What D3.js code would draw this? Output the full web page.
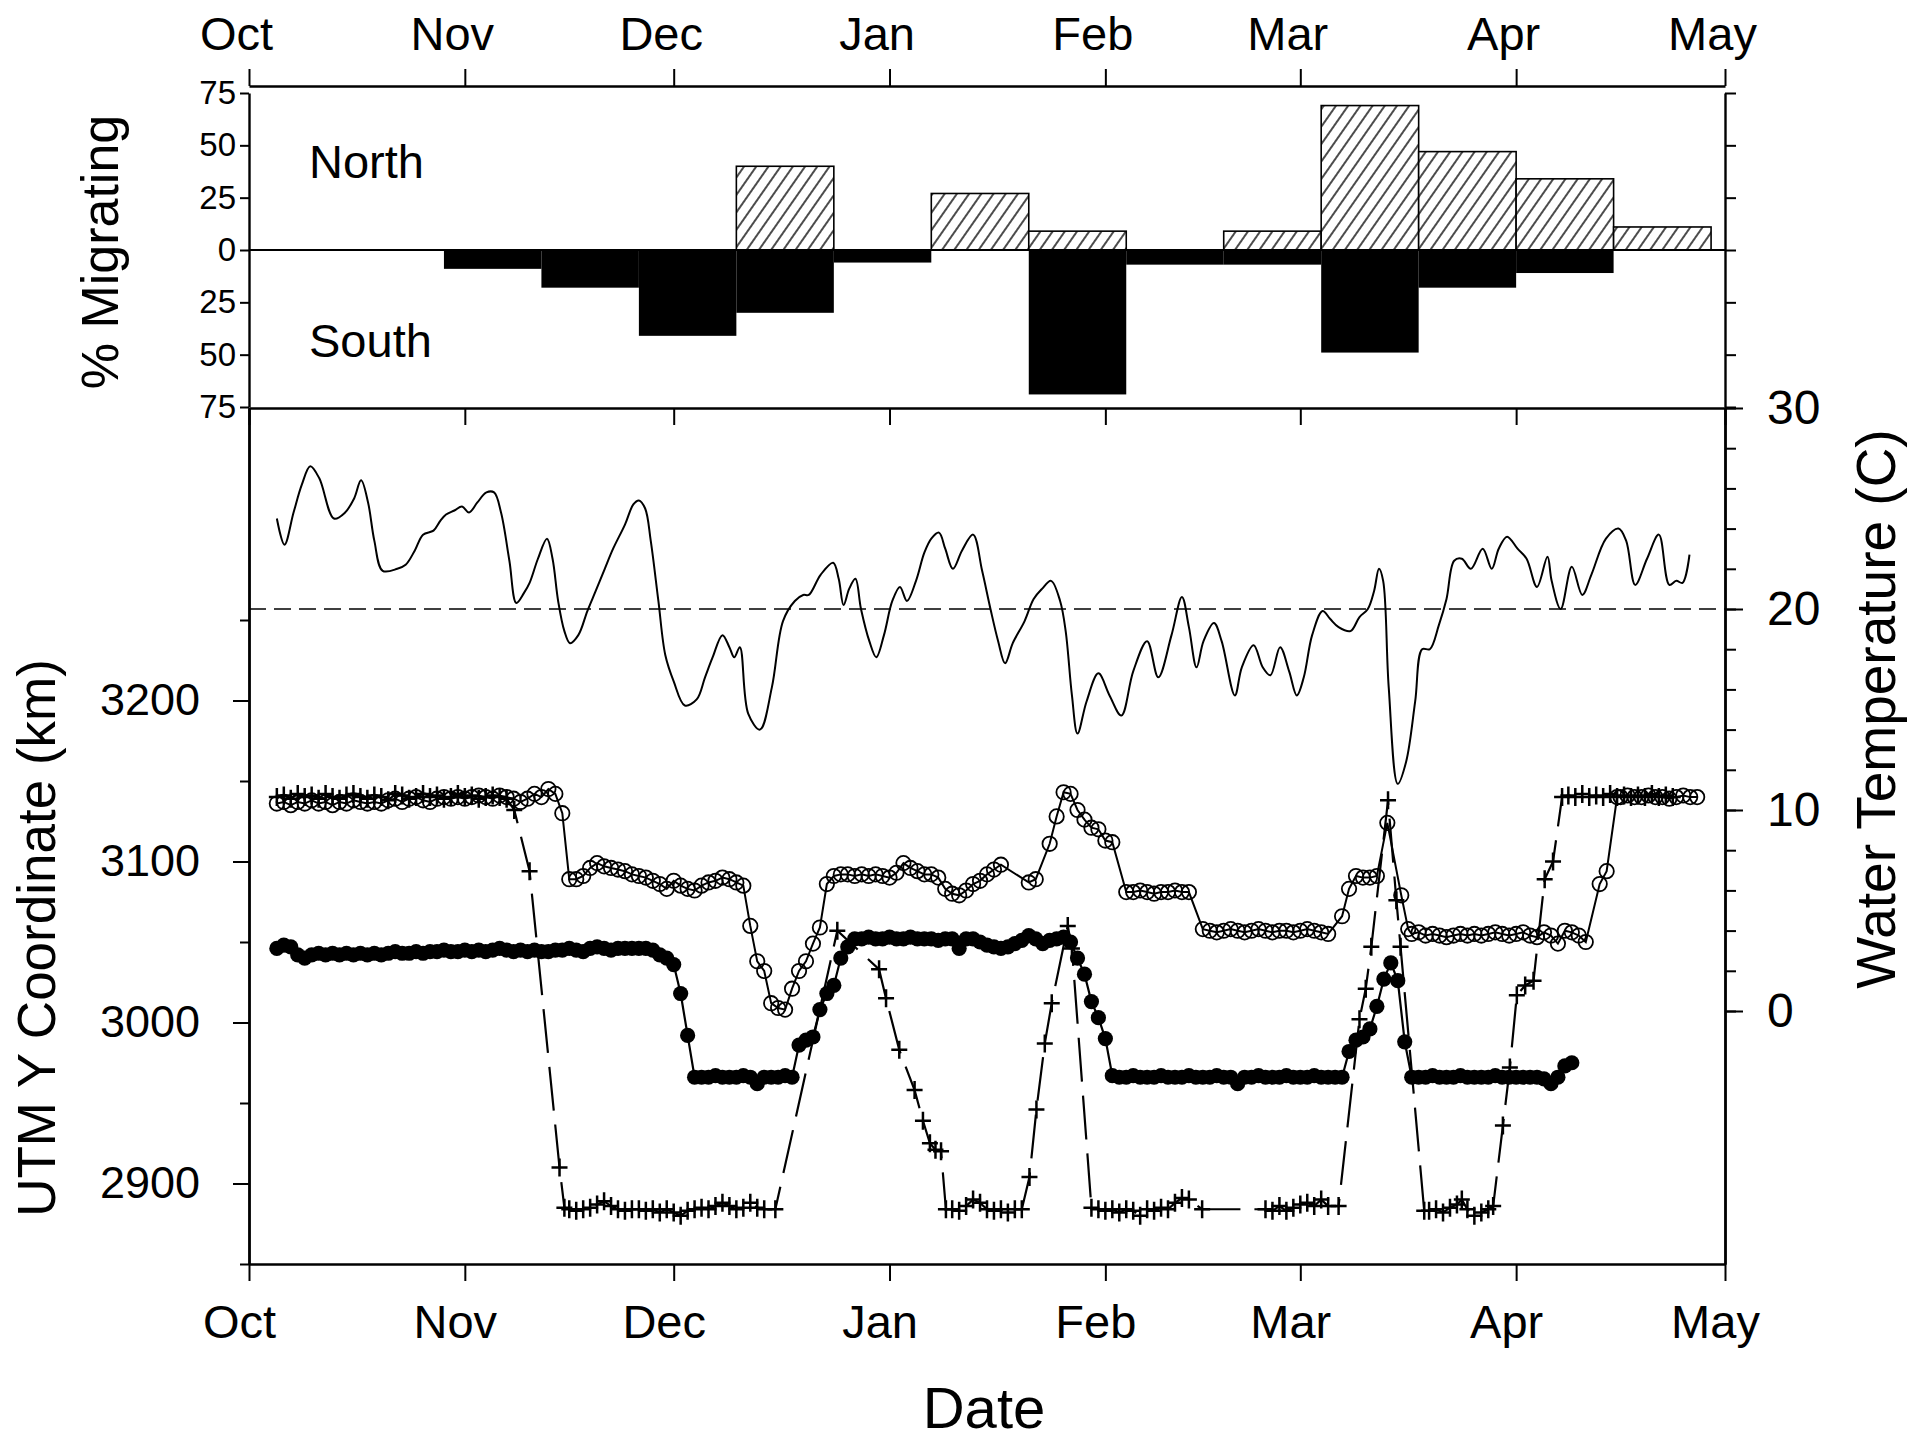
<!DOCTYPE html>
<html><head><meta charset="utf-8">
<script src="https://cdn.jsdelivr.net/npm/d3@7"></script>
<style>
html,body{margin:0;padding:0;background:#fff;}
svg{display:block;}
text{font-family:"Liberation Sans",Arial,Helvetica,sans-serif;fill:#000;}
</style></head><body>
<svg id="chart" width="1917" height="1441"></svg>
<script>
// ---------------- DATA ----------------
const monthLabels = ["Oct","Nov","Dec","Jan","Feb","Mar","Apr","May"];
// 14-day migration bins (start dates)
const binStarts = ["1998-10-29","1998-11-12","1998-11-26","1998-12-10","1998-12-24","1999-01-07","1999-01-21",
                   "1999-02-04","1999-02-18","1999-03-04","1999-03-18","1999-04-01","1999-04-15"];
const pctNorth = [0, 0, 0, 40, 0, 27, 9, 0, 9, 69, 47, 34, 11];
const pctSouth = [9, 18, 41, 30, 6, 0, 69, 7, 7, 49, 18, 11, 0];
const migTicks = [0, 25, 50, 75];
const kmTickLabels = [2900, 3000, 3100, 3200];
const tempTickLabels = [0, 10, 20, 30];

// Water temperature (days since 1 Oct, deg C)
const tempDay = [4.0,5.1,6.4,7.6,8.8,10.1,12.2,13.8,15.1,16.1,17.1,18.0,19.2,21.3,22.5,23.8,25.0,26.5,27.5,28.3,29.5,30.6,31.6,32.8,34.1,35.2,36.2,37.4,38.4,39.5,40.3,41.5,42.8,43.6,44.4,45.3,46.1,47.3,48.6,49.8,51.1,52.3,54.0,55.2,56.0,56.9,57.7,58.8,59.8,61.0,62.6,64.3,65.5,66.6,68.0,69.0,69.7,70.5,71.7,73.4,75.1,76.7,78.4,79.6,80.4,82.1,83.9,84.7,85.4,86.2,87.1,87.9,89.1,90.1,91.2,92.4,93.5,94.5,95.8,97.0,98.0,99.1,100.0,101.1,102.4,104.0,105.3,106.5,107.6,108.6,109.7,111.4,112.7,113.9,115.2,116.5,117.3,118.2,119.0,120.3,122.0,123.6,125.3,127.0,129.0,130.6,132.5,134.0,135.0,136.1,137.1,138.6,139.7,141.6,142.6,144.3,145.6,146.7,148.1,149.4,150.5,151.5,152.7,154.2,155.3,156.5,158.2,159.5,160.7,161.6,162.3,162.9,163.7,165.0,166.2,167.5,168.5,169.6,170.9,172.0,173.1,174.2,175.5,177.2,178.5,179.5,180.7,182.2,183.5,185.0,186.5,187.1,188.4,190.0,191.5,192.8,194.9,196.7,197.8,199.1,200.8,202.5,204.0,205.0,205.9,206.9];
const tempC = [24.5,23.2,24.8,26.2,27.1,26.5,24.5,24.8,25.5,26.4,25.3,23.4,21.9,22.0,22.2,22.9,23.7,23.9,24.4,24.7,24.9,25.1,24.8,25.3,25.8,25.8,24.8,22.4,20.3,20.8,21.3,22.5,23.5,22.5,20.4,18.9,18.3,18.7,19.9,20.9,22.0,23.0,24.2,25.2,25.4,25.0,23.4,20.4,17.7,16.4,15.2,15.5,16.6,17.6,18.7,18.1,17.6,18.1,14.8,14.0,16.1,19.4,20.4,20.7,20.7,21.7,22.3,21.5,20.2,21.0,21.5,20.0,18.4,17.6,18.7,20.4,21.1,20.4,21.4,22.8,23.5,23.8,23.0,22.0,22.9,23.7,21.9,20.0,18.4,17.3,18.3,19.4,20.5,21.0,21.4,20.4,18.9,15.7,13.8,15.4,16.8,15.7,14.7,16.9,18.4,16.6,18.7,20.6,19.1,17.1,18.4,19.3,18.4,15.7,17.1,18.2,17.1,16.7,18.1,16.9,15.7,16.6,18.7,19.9,19.5,19.1,18.9,19.6,20.0,20.9,22.0,21.4,16.1,11.3,12.4,15.4,18.0,18.0,19.2,20.5,22.4,22.5,22.0,23.0,22.0,23.0,23.6,23.0,22.5,21.1,22.6,21.4,20.0,22.1,20.7,21.7,23.5,24.0,23.4,21.2,22.5,23.7,21.2,21.4,21.3,22.7];
const tempThreshold = 20;

// UTM Y coordinate series: [days since 1 Oct, km]
const fishOpen = [[4,3136],[5,3137],[6,3135],[7,3137],[8,3136],[9,3138],[10,3136],[11,3137],[12,3135],[13,3137],[14,3136],[15,3138],[16,3137],[17,3136],[18,3137],[19,3136],[20,3138],[21,3139],[22,3137],[23,3139],[24,3140],[25,3138],[26,3137],[27,3139],[28,3140],[29,3139],[30,3140],[31,3139],[32,3140],[33,3141],[34,3140],[35,3139],[36,3141],[37,3140],[38,3139],[39,3137],[40,3139],[41,3142],[42,3140],[43,3145],[44,3142],[45,3130],[46,3089],[47,3089],[48,3091],[49,3096],[50,3099],[51,3097],[52,3096],[53,3095],[54,3094],[55,3092],[56,3091],[57,3090],[58,3088],[59,3086],[60,3083],[61,3088],[62,3085],[63,3083],[64,3082],[65,3085],[66,3087],[67,3088],[68,3090],[69,3089],[70,3087],[71,3085],[72,3060],[73,3038],[74,3032],[75,3012],[76,3009],[77,3008],[78,3021],[79,3032],[80,3038],[81,3049],[82,3059],[83,3086],[84,3091],[85,3092],[86,3092],[87,3091],[88,3092],[89,3091],[90,3092],[91,3091],[92,3090],[93,3093],[94,3099],[95,3096],[96,3094],[97,3092],[98,3092],[99,3090],[100,3083],[101,3080],[102,3079],[103,3082],[104,3086],[105,3088],[106,3092],[107,3095],[108,3098],[112,3087],[113,3089],[115,3111],[116,3128],[117,3143],[118,3142],[119,3132],[120,3126],[121,3121],[122,3120],[123,3113],[124,3112],[126,3081],[127,3081],[128,3082],[129,3081],[130,3080],[131,3081],[132,3081],[133,3082],[134,3081],[135,3081],[137,3058],[138,3057],[139,3056],[140,3057],[141,3058],[142,3057],[143,3056],[144,3057],[145,3058],[146,3057],[147,3056],[148,3057],[149,3057],[150,3056],[151,3057],[152,3058],[153,3057],[154,3056],[155,3055],[157,3066],[158,3083],[159,3091],[160,3090],[161,3090],[162,3091],[163.5,3124],[165.5,3079],[166.5,3058],[167,3055],[168,3056],[169,3054],[170,3055],[171,3054],[172,3053],[173,3054],[174,3055],[175,3054],[176,3055],[177,3054],[178,3055],[179,3056],[180,3055],[181,3054],[182,3055],[183,3056],[184,3054],[185,3053],[186,3056],[187,3054],[188,3049],[189,3057],[190,3056],[191,3054],[192,3050],[194,3086],[195,3094],[196.5,3140],[197,3140],[198,3141],[199,3140],[200,3140],[201,3141],[202,3140],[203,3140],[204,3139],[205,3140],[206,3141],[207,3140],[208,3140]];
const fishFilled = [[4,3046],[5,3048],[6,3047],[7,3042],[8,3040],[9,3042],[10,3043],[11,3042],[12,3043],[13,3042],[14,3043],[15,3042],[16,3043],[17,3042],[18,3043],[19,3042],[20,3043],[21,3044],[22,3043],[23,3043],[24,3044],[25,3043],[26,3044],[27,3044],[28,3045],[29,3044],[30,3044],[31,3045],[32,3044],[33,3045],[34,3044],[35,3045],[36,3046],[37,3045],[38,3044],[39,3045],[40,3044],[41,3045],[42,3044],[43,3044],[44,3045],[45,3045],[46,3046],[47,3045],[48,3044],[49,3046],[50,3047],[51,3046],[52,3045],[53,3046],[54,3046],[55,3046],[56,3046],[57,3046],[58,3045],[59,3042],[60,3040],[61,3036],[62,3018],[63,2992],[64,2966],[65,2966],[66,2966],[67,2967],[68,2966],[69,2966],[70,2966],[71,2967],[72,2966],[73,2962],[74,2966],[75,2966],[76,2966],[77,2967],[78,2966],[79,2986],[80,2989],[81,2991],[82,3008],[83,3018],[84,3023],[85,3040],[86,3047],[87,3052],[88,3052],[89,3053],[90,3052],[91,3052],[92,3053],[93,3052],[94,3052],[95,3053],[96,3052],[97,3052],[98,3052],[99,3051],[100,3052],[101,3052],[102,3046],[103,3052],[104,3052],[105,3050],[106,3048],[107,3047],[108,3046],[109,3047],[110,3049],[111,3051],[112,3054],[113,3052],[114,3049],[115,3051],[116,3052],[117,3053],[118,3050],[119,3040],[120,3030],[121,3013],[122,3003],[123,2990],[124,2967],[125,2966],[126,2966],[127,2967],[128,2966],[129,2966],[130,2966],[131,2967],[132,2966],[133,2966],[134,2966],[135,2967],[136,2966],[137,2966],[138,2966],[139,2967],[140,2966],[141,2966],[142,2962],[143,2966],[144,2966],[145,2967],[146,2966],[147,2966],[148,2966],[149,2967],[150,2966],[151,2966],[152,2966],[153,2967],[154,2966],[155,2966],[156,2966],[157,2966],[158,2982],[159,2989],[160,2991],[161,2996],[162,3010],[163,3027],[164,3037],[165,3026],[166,2988],[167,2966],[168,2966],[169,2966],[170,2967],[171,2966],[172,2966],[173,2966],[174,2967],[175,2966],[176,2966],[177,2966],[178,2966],[179,2967],[180,2966],[181,2966],[182,2966],[183,2966],[184,2966],[185,2966],[186,2965],[187,2962],[188,2966],[189,2973],[190,2975]];
const fishPlus = [[4,3140],[5,3141],[6,3139],[7,3142],[8,3140],[9,3141],[10,3139],[11,3142],[12,3140],[13,3139],[14,3141],[15,3142],[16,3140],[17,3139],[18,3141],[19,3140],[20,3138],[21,3142],[22,3141],[23,3139],[24,3140],[25,3142],[26,3140],[27,3141],[28,3139],[29,3140],[30,3142],[31,3140],[32,3141],[33,3139],[34,3140],[35,3141],[36,3140],[37,3139],[38.1,3132],[40.3,3094],[44.6,2910],[45.3,2885],[46,2884],[47,2883],[48,2884],[49,2885],[50,2887],[51,2889],[52,2886],[53,2884],[54,2883],[55,2884],[56,2884],[57,2883],[58,2884],[59,2882],[60,2884],[61,2882],[62,2880],[63,2883],[64,2884],[65,2885],[66,2884],[67,2886],[68,2888],[69,2886],[70,2884],[71,2885],[72,2888],[73,2885],[74,2884],[75.6,2884],[84.5,3057],[90.5,3033],[91.5,3015],[93.4,2983],[95.6,2958],[96.8,2939],[97.8,2925],[98.6,2921],[99.4,2920],[100.1,2884],[101,2884],[102,2883],[103,2886],[104,2890],[105,2888],[106,2884],[107,2883],[108,2884],[109,2882],[110,2884],[111,2884],[112.1,2904],[113.1,2946],[114.3,2987],[115.3,3012],[117.6,3060],[118.2,3046],[121,2885],[122,2884],[123,2883],[124,2884],[125,2882],[126,2884],[127,2883],[128,2880],[129,2884],[130,2883],[131,2885],[132,2884],[133,2888],[134,2891],[135,2890],[136.9,2884],[146,2884],[147,2883],[148,2886],[149,2883],[150,2885],[151,2887],[152,2888],[153,2886],[154,2890],[155,2886],[156.5,2886],[159.5,3002],[160.4,3021],[161.2,3047],[163.6,3138],[164.8,3076],[165.4,3047],[168.8,2883],[169.5,2883],[170.5,2884],[171.5,2882],[172.5,2885],[173.5,2887],[174.2,2890],[175,2884],[176,2880],[177,2882],[178,2884],[178.7,2886],[180.1,2936],[181.1,2972],[182.1,3017],[183.3,3023],[184.5,3026],[186.1,3089],[187.3,3100],[188.6,3140],[189.5,3141],[190.5,3140],[191.5,3142],[192.5,3140],[193.5,3141],[194.5,3140],[195.5,3142],[196.5,3140],[197.5,3141],[198.5,3140],[199.5,3141],[200.5,3140],[201.5,3142],[202.5,3140],[203.5,3141],[204.5,3140]];

// ---------------- CHART ----------------
const svg = d3.select("#chart");
const FONT = '"Liberation Sans",Arial,Helvetica,sans-serif';
const t0 = Date.UTC(1998, 9, 1);
const dayDate = d => new Date(t0 + d * 864e5);
const parse = d3.utcParse("%Y-%m-%d");

const L = 249, R = 1725;
const x = d3.scaleUtc().domain([new Date(t0), new Date(Date.UTC(1999, 4, 1))]).range([L, R]);
const months = d3.utcMonth.range(new Date(t0), new Date(Date.UTC(1999, 4, 2)));

const yZero = 250;
const yN = d3.scaleLinear().domain([0, 75]).range([yZero, 93]);
const yS = d3.scaleLinear().domain([0, 75]).range([yZero, 407]);
const yKm = d3.scaleLinear().domain([2850, 3200]).range([1264, 700.5]);
const yT = d3.scaleLinear().domain([0, 30]).range([1011, 408]);
const TOP = 86, MID = 408, BOT = 1264;

const defs = svg.append("defs");
const pat = defs.append("pattern").attr("id", "hatch").attr("patternUnits", "userSpaceOnUse")
  .attr("width", 10).attr("height", 10).attr("patternTransform", "rotate(35)");
pat.append("rect").attr("width", 10).attr("height", 10).attr("fill", "#fff");
pat.append("line").attr("x1", 5).attr("y1", 0).attr("x2", 5).attr("y2", 10)
  .attr("stroke", "#000").attr("stroke-width", 1.4);

function style(g, fs) {
  g.attr("font-family", FONT).attr("font-size", fs);
  g.select(".domain").attr("stroke", "#000").attr("stroke-width", 2.4);
  g.selectAll(".tick line").attr("stroke", "#000").attr("stroke-width", 2);
  g.selectAll(".tick text").attr("fill", "#000");
}

// ---- Bars (top panel)
const bins = binStarts.map((s, i) => ({ start: parse(s), end: d3.utcDay.offset(parse(s), 14), n: pctNorth[i], s: pctSouth[i] }));
svg.append("g").selectAll("rect").data(bins.filter(b => b.s > 0)).join("rect")
  .attr("x", b => x(b.start)).attr("width", b => x(b.end) - x(b.start))
  .attr("y", yZero).attr("height", b => yS(b.s) - yZero).attr("fill", "#000");
svg.append("g").selectAll("rect").data(bins.filter(b => b.n > 0)).join("rect")
  .attr("x", b => x(b.start)).attr("width", b => x(b.end) - x(b.start))
  .attr("y", b => yN(b.n)).attr("height", b => yZero - yN(b.n))
  .attr("fill", "url(#hatch)").attr("stroke", "#000").attr("stroke-width", 1.6);
svg.append("line").attr("x1", L).attr("x2", R).attr("y1", yZero).attr("y2", yZero)
  .attr("stroke", "#000").attr("stroke-width", 1.8);

svg.append("text").attr("x", 309).attr("y", 178).attr("font-size", 47).text("North");
svg.append("text").attr("x", 309).attr("y", 357).attr("font-size", 47).text("South");

// ---- Axes
const gTop = svg.append("g").attr("transform", `translate(0,${TOP})`)
  .call(d3.axisTop(x).tickValues(months).tickSize(17).tickSizeOuter(0).tickFormat((d, i) => monthLabels[i]));
style(gTop, 47);
gTop.selectAll(".tick text").attr("y", -36).attr("dy", 0).attr("dx", -13);
const gMid = svg.append("g").attr("transform", `translate(0,${MID})`)
  .call(d3.axisBottom(x).tickValues(months).tickSize(17).tickSizeOuter(0).tickFormat(""));
style(gMid, 10);
const gBot = svg.append("g").attr("transform", `translate(0,${BOT})`)
  .call(d3.axisBottom(x).tickValues(months).tickSize(17).tickSizeOuter(0).tickFormat((d, i) => monthLabels[i]));
style(gBot, 47);
gBot.selectAll(".tick text").attr("y", 74).attr("dy", 0).attr("dx", -10);

const gNL = svg.append("g").attr("transform", `translate(${L},0)`)
  .call(d3.axisLeft(yN).tickValues(migTicks).tickSize(9).tickPadding(4).tickSizeOuter(0));
style(gNL, 33);
const gSL = svg.append("g").attr("transform", `translate(${L},0)`)
  .call(d3.axisLeft(yS).tickValues(migTicks.slice(1)).tickSize(9).tickPadding(4).tickSizeOuter(0));
style(gSL, 33);
const gNR = svg.append("g").attr("transform", `translate(${R},0)`)
  .call(d3.axisRight(yN).tickValues(migTicks).tickSize(11).tickSizeOuter(0).tickFormat(""));
style(gNR, 10);
const gSR = svg.append("g").attr("transform", `translate(${R},0)`)
  .call(d3.axisRight(yS).tickValues(migTicks.slice(1)).tickSize(11).tickSizeOuter(0).tickFormat(""));
style(gSR, 10);

const yKmAxis = yKm.copy().domain([2850, yKm.invert(MID)]).range([BOT, MID]);
const gKmMinor = svg.append("g").attr("transform", `translate(${L},0)`)
  .call(d3.axisLeft(yKmAxis).tickValues(d3.range(2850, 3251, 50)).tickSize(9).tickSizeOuter(0).tickFormat(""));
style(gKmMinor, 10);
const gKm = svg.append("g").attr("transform", `translate(${L},0)`)
  .call(d3.axisLeft(yKmAxis).tickValues(kmTickLabels).tickSize(16).tickPadding(33).tickSizeOuter(0).tickFormat(d3.format("d")));
style(gKm, 45);

const yTAxis = yT.copy().domain([yT.invert(BOT), 30]).range([BOT, MID]);
const gTMinor = svg.append("g").attr("transform", `translate(${R},0)`)
  .call(d3.axisRight(yTAxis).tickValues(d3.range(0, 31, 2)).tickSize(11).tickSizeOuter(0).tickFormat(""));
style(gTMinor, 10);
const gT = svg.append("g").attr("transform", `translate(${R},0)`)
  .call(d3.axisRight(yTAxis).tickValues(tempTickLabels).tickSize(18).tickPadding(24).tickSizeOuter(0).tickFormat(d3.format("d")));
style(gT, 48);

// ---- Temperature
svg.append("line").attr("x1", L).attr("x2", R).attr("y1", yT(tempThreshold)).attr("y2", yT(tempThreshold))
  .attr("stroke", "#000").attr("stroke-width", 1.6).attr("stroke-dasharray", "17,8");
const tempLine = d3.line().x((d, i) => x(dayDate(tempDay[i]))).y(d => yT(d)).curve(d3.curveCatmullRom.alpha(0.5));
svg.append("path").attr("d", tempLine(tempC)).attr("fill", "none").attr("stroke", "#000").attr("stroke-width", 2);

// ---- Location series
const kmLine = d3.line().x(d => x(dayDate(d[0]))).y(d => yKm(d[1]));
svg.append("path").attr("d", kmLine(fishPlus)).attr("fill", "none").attr("stroke", "#000")
  .attr("stroke-width", 2.2).attr("stroke-dasharray", "44,14");
svg.append("g").selectAll("path").data(fishPlus).join("path")
  .attr("transform", d => `translate(${x(dayDate(d[0]))},${yKm(d[1])})`)
  .attr("d", "M-8,0H8M0,-9V9").attr("stroke", "#000").attr("stroke-width", 2.5).attr("fill", "none");
svg.append("path").attr("d", kmLine(fishOpen)).attr("fill", "none").attr("stroke", "#000").attr("stroke-width", 2);
svg.append("g").selectAll("circle").data(fishOpen).join("circle")
  .attr("cx", d => x(dayDate(d[0]))).attr("cy", d => yKm(d[1])).attr("r", 7.2)
  .attr("fill", "none").attr("stroke", "#000").attr("stroke-width", 1.8);
svg.append("path").attr("d", kmLine(fishFilled)).attr("fill", "none").attr("stroke", "#000").attr("stroke-width", 2.2);
svg.append("g").selectAll("circle").data(fishFilled).join("circle")
  .attr("cx", d => x(dayDate(d[0]))).attr("cy", d => yKm(d[1])).attr("r", 7.6).attr("fill", "#000");

// ---- Axis titles
svg.append("text").attr("transform", "translate(118,252) rotate(-90)").attr("text-anchor", "middle")
  .attr("font-size", 52).text("% Migrating");
svg.append("text").attr("transform", "translate(55,938) rotate(-90)").attr("text-anchor", "middle")
  .attr("font-size", 53).text("UTM Y Coordinate (km)");
svg.append("text").attr("transform", "translate(1895,709) rotate(-90)").attr("text-anchor", "middle")
  .attr("font-size", 55).text("Water Temperature (C)");
svg.append("text").attr("x", 984).attr("y", 1428).attr("text-anchor", "middle").attr("font-size", 58).text("Date");
</script></body></html>
